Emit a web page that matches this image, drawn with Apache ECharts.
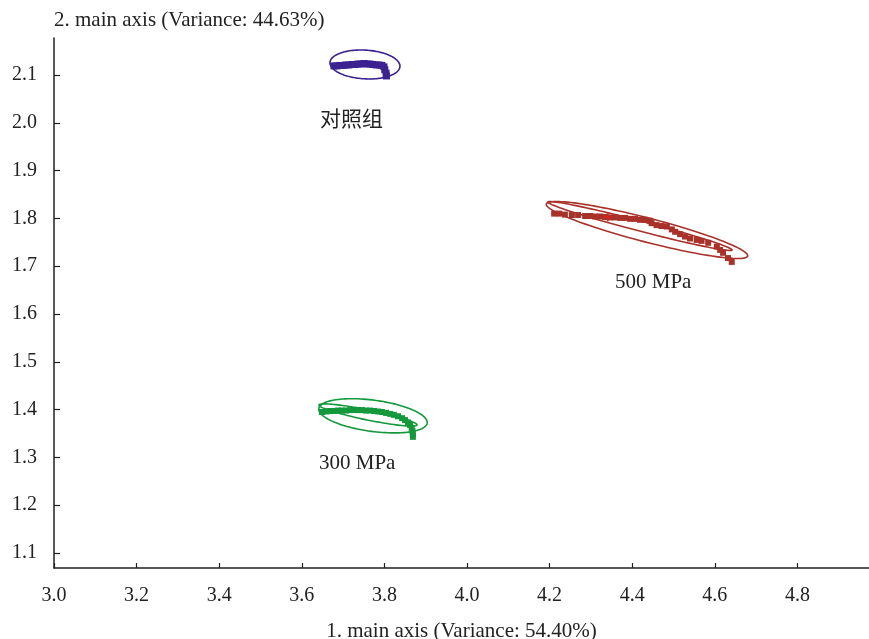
<!DOCTYPE html>
<html>
<head>
<meta charset="utf-8">
<script src="https://cdn.jsdelivr.net/npm/echarts@6/dist/echarts.min.js"></script>
<style>html,body{margin:0;padding:0;background:#fff;}#c{width:869px;height:639px;}</style>
</head>
<body>
<div id="c"></div>
<script>
// ---- data ----
const xTicks = [3.0, 3.2, 3.4, 3.6, 3.8, 4.0, 4.2, 4.4, 4.6, 4.8];
const yTicks = [1.1, 1.2, 1.3, 1.4, 1.5, 1.6, 1.7, 1.8, 1.9, 2.0, 2.1];
const xName = '1. main axis (Variance: 54.40%)';
const yName = '2. main axis (Variance: 44.63%)';
const groupNames = ['对照组', '300 MPa', '500 MPa'];

const controlPoints = [
  [3.678,2.119],[3.685,2.119],[3.692,2.120],[3.700,2.120],[3.707,2.121],[3.714,2.121],
  [3.722,2.122],[3.729,2.122],[3.736,2.123],[3.743,2.123],[3.751,2.124],[3.758,2.123],
  [3.765,2.123],[3.772,2.122],[3.780,2.121],[3.787,2.121],[3.794,2.120],[3.799,2.117],
  [3.801,2.111],[3.804,2.104],[3.805,2.098]
];
const mpa300Points = [
  [3.649,1.395],[3.659,1.396],[3.668,1.397],[3.678,1.397],[3.688,1.398],[3.697,1.398],
  [3.707,1.398],[3.717,1.399],[3.726,1.399],[3.736,1.399],[3.746,1.399],[3.755,1.398],
  [3.765,1.398],[3.775,1.397],[3.785,1.396],[3.794,1.395],[3.804,1.393],[3.814,1.391],
  [3.823,1.389],[3.833,1.386],[3.843,1.382],[3.850,1.378],[3.857,1.373],[3.862,1.368],
  [3.866,1.362],[3.868,1.355],[3.869,1.349],[3.869,1.343]
];
const mpa500Points = [
  [4.211,1.810],[4.223,1.810],[4.237,1.808],[4.254,1.807],[4.269,1.807],[4.286,1.805],
  [4.298,1.805],[4.310,1.804],[4.322,1.804],[4.334,1.803],[4.346,1.802],[4.358,1.802],
  [4.371,1.801],[4.383,1.801],[4.395,1.799],[4.407,1.799],[4.419,1.797],[4.431,1.797],
  [4.443,1.795],[4.447,1.790],[4.459,1.786],[4.471,1.784],[4.484,1.783],[4.496,1.777],
  [4.504,1.772],[4.516,1.767],[4.528,1.762],[4.540,1.758],[4.556,1.755],[4.568,1.753],
  [4.584,1.749],[4.605,1.741],[4.613,1.734],[4.620,1.728],[4.632,1.717],[4.641,1.709]
];
const mpa500Centroid = [[4.341, 1.803]];

// ellipses: [centerX, centerY, axis1X, axis1Y, axis2X, axis2Y] (data units)
const controlEllipses = [[3.7530, 2.1220, 0.0847, -0.0042, 0.0019, 0.0300]];
const mpa300Ellipses = [
  [3.7724, 1.3870, 0.1312, -0.0150, 0.0044, 0.0325],
  [3.7603, 1.3887, 0.1186, -0.0209, 0.0024, 0.0103]
];
const mpa500Ellipses = [
  [4.4358, 1.7757, 0.2438, -0.0544, 0.0073, 0.0243],
  [4.4189, 1.7841, 0.2228, -0.0502, 0.0031, 0.0101]
];

// ---- styles ----
const PURPLE = '#3b2290', GREEN = '#13993b', RED = '#a8322a';
const SERIF = 'Liberation Serif';

function ellipseSeries(data, color) {
  return {
    type: 'custom',
    data: data,
    silent: true,
    z: 1,
    renderItem: function (params, api) {
      const cx = api.value(0), cy = api.value(1);
      const ax = api.value(2), ay = api.value(3), bx = api.value(4), by = api.value(5);
      const pts = [];
      const n = 120;
      for (let i = 0; i < n; i++) {
        const t = 2 * Math.PI * i / n;
        pts.push(api.coord([cx + ax * Math.cos(t) + bx * Math.sin(t), cy + ay * Math.cos(t) + by * Math.sin(t)]));
      }
      return { type: 'polygon', shape: { points: pts }, style: { fill: 'transparent', stroke: color, lineWidth: 1.6 } };
    }
  };
}
function pointSeries(name, data, color, size) {
  return { name: name, type: 'scatter', data: data, symbol: 'rect', symbolSize: size,
    itemStyle: { color: color, opacity: 1 }, z: 3, silent: true };
}

const chart = echarts.init(document.getElementById('c'), null, { renderer: 'canvas' });
chart.setOption({
  animation: false,
  backgroundColor: '#fff',
  grid: { left: 54, right: 0, top: 38, bottom: 71, containLabel: false, outerBoundsMode: 'none' },
  xAxis: {
    type: 'value', min: 3.0, max: 4.9734,
    name: xName, nameLocation: 'middle', nameGap: 53,
    nameTextStyle: { fontFamily: SERIF, fontSize: 21, color: '#222' },
    axisLine: { show: true, lineStyle: { color: '#222', width: 1.5 } },
    axisTick: { show: true, inside: true, length: 5, lineStyle: { color: '#222', width: 1.2 }, customValues: xTicks },
    axisLabel: { fontFamily: SERIF, fontSize: 20, color: '#222', margin: 18, customValues: xTicks,
      formatter: v => v.toFixed(1) },
    splitLine: { show: false }
  },
  yAxis: {
    type: 'value', min: 1.0686, max: 2.1774,
    name: yName, nameLocation: 'end', nameGap: 7,
    nameTextStyle: { fontFamily: SERIF, fontSize: 21, color: '#222', align: 'left', verticalAlign: 'bottom' },
    axisLine: { show: true, lineStyle: { color: '#222', width: 1.5 } },
    axisTick: { show: true, inside: true, length: 6, lineStyle: { color: '#222', width: 1.2 }, customValues: yTicks },
    axisLabel: { fontFamily: SERIF, fontSize: 20, color: '#222', margin: 17, customValues: yTicks,
      formatter: v => v.toFixed(1) },
    splitLine: { show: false }
  },
  graphic: [
    { type: 'text', left: 320, top: 108, style: { text: groupNames[0], font: '21px "Noto Sans CJK SC"', fill: '#222' } },
    { type: 'text', left: 319, top: 453, style: { text: groupNames[1], font: '21px "Liberation Serif"', fill: '#222' } },
    { type: 'text', left: 615, top: 272, style: { text: groupNames[2], font: '21px "Liberation Serif"', fill: '#222' } }
  ],
  series: [
    ellipseSeries(controlEllipses, PURPLE),
    ellipseSeries(mpa300Ellipses, GREEN),
    ellipseSeries(mpa500Ellipses, RED),
    pointSeries(groupNames[0], controlPoints, PURPLE, 7),
    pointSeries(groupNames[1], mpa300Points, GREEN, 6),
    pointSeries(groupNames[2], mpa500Points, RED, 6),
    { type: 'scatter', data: mpa500Centroid, symbol: 'path://M4,0H6V4H10V6H6V10H4V6H0V4H4Z', symbolSize: 9,
      itemStyle: { color: '#e0201c' }, z: 4, silent: true }
  ]
});
</script>
</body>
</html>
